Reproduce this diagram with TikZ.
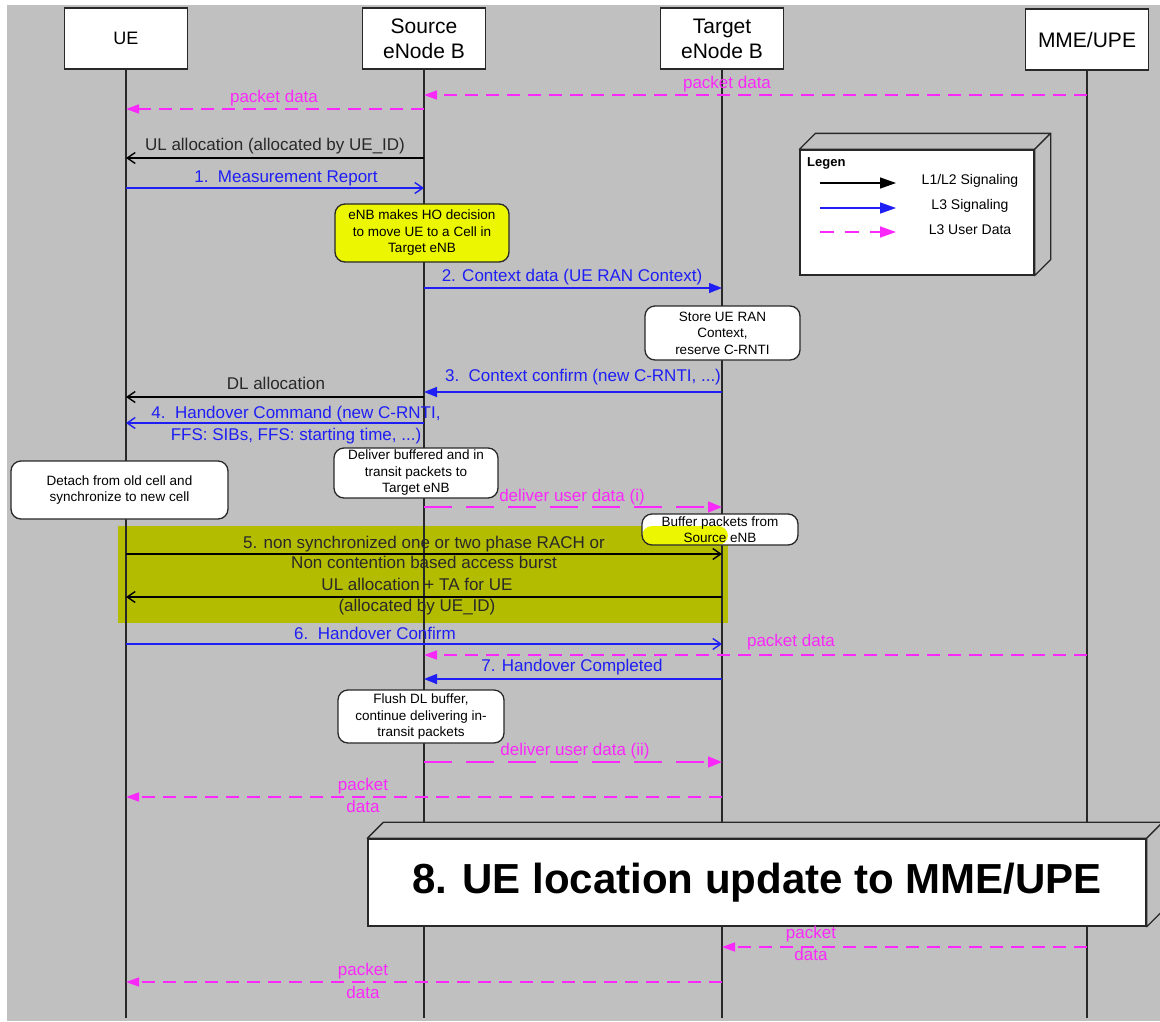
\documentclass[tikz,border=0pt]{standalone}
\usepackage{fontspec}
\setmainfont{Liberation Sans}
\usetikzlibrary{arrows.meta}
\definecolor{bg}{RGB}{192,192,192}
\definecolor{pk}{RGB}{250,40,250}
\definecolor{bl}{RGB}{30,30,245}
\definecolor{yel}{RGB}{236,246,0}
\definecolor{olv}{RGB}{180,188,0}
\definecolor{ink}{RGB}{40,40,40}
\newcommand\mmsg[5]{\coordinate (#2a) at (#3,#5); \coordinate (#2b) at (#4,#5); \draw[#1] (#2a) -- (#2b);}
\begin{document}
\begin{tikzpicture}[x=1pt,y=-1pt,
 lbl/.style={font=\fontsize{17}{20}\selectfont, inner sep=0pt, align=center},
 hdr/.style={draw=ink, line width=1.6pt, fill=white, minimum width=123pt, minimum height=61pt, font=\fontsize{21}{25}\selectfont, align=center, inner sep=0pt},
 life/.style={draw=ink, line width=1.6pt},
 note/.style={draw=ink, line width=1.3pt, fill=white, rounded corners=10pt, align=center, inner sep=0pt, font=\fontsize{13.5}{16.5}\selectfont},
 sig/.style={line width=1.4pt, -{Straight Barb[length=8pt,width=11pt,line width=1.4pt]}},
 fsig/.style={line width=1.4pt, -{Triangle[length=13pt,width=10pt]}},
 data/.style={pk, line width=1.5pt, dash pattern=on 13pt off 8pt, -{Triangle[length=13pt,width=9pt]}},
 ldata/.style={pk, line width=1.5pt, dash pattern=on 28pt off 14pt, -{Triangle[length=14pt,width=11pt]}},
 legtxt/.style={font=\fontsize{14}{16}\selectfont, inner sep=0pt},
 threed/.style={fill=bg, draw=ink, line width=1.3pt, line join=round}
]
\useasboundingbox (0,0) rectangle (1160,1021);
\fill[white] (0,0) rectangle (1160,1021);
\fill[bg] (7,5) rectangle (1160,1021);
\fill[olv] (118,526) rectangle (728,623);

% headers
\node[hdr, font=\fontsize{18}{21}\selectfont] (ue) at (126,38.5) {UE};
\node[hdr] (src) at (424,38.5) {Source\\eNode B};
\node[hdr] (tgt) at (722,38.5) {Target\\eNode B};
\node[hdr] (mme) at (1087,39.5) {MME/UPE};

% lifelines
\coordinate (ueE) at (126,1018);
\coordinate (srcE) at (424,1018);
\coordinate (tgtE) at (722,1018);
\coordinate (mmeE) at (1087,1018);
\draw[life] (ue.south) -- (ueE);
\draw[life] (src.south) -- (srcE);
\draw[life] (tgt.south) -- (tgtE);
\draw[life] (mme.south) -- (mmeE);

% legend
\node[draw=ink, line width=1.3pt, fill=white, minimum width=234pt, minimum height=125pt, inner sep=0pt] (leg) at (917,212.5) {};
\filldraw[threed] (leg.north west) -- ([shift={(16,-16)}]leg.north west) -- ([shift={(16,-16)}]leg.north east) -- (leg.north east) -- cycle;
\filldraw[threed] (leg.north east) -- ([shift={(16,-16)}]leg.north east) -- ([shift={(16,-16)}]leg.south east) -- (leg.south east) -- cycle;
\node[font=\bfseries\fontsize{13}{15}\selectfont, anchor=west, inner sep=0pt] (legt) at (807,163) {Legen};
\mmsg{black, line width=1.4pt, -{Triangle[length=16pt,width=11pt]}}{lg1}{820}{896}{183}
\mmsg{bl, line width=1.4pt, -{Triangle[length=16pt,width=11pt]}}{lg2}{820}{896}{208}
\mmsg{pk, line width=1.5pt, dash pattern=on 14pt off 11pt, -{Triangle[length=16pt,width=11pt]}}{lg3}{820}{896}{232}
\node[legtxt] (lgl1) at (970,181) {L1/L2 Signaling};
\node[legtxt] (lgl2) at (970,206) {L3 Signaling};
\node[legtxt] (lgl3) at (970,230) {L3 User Data};

% messages
\mmsg{data}{pa}{1087}{424}{95}
\node[lbl, text=pk] (pal) at (727,84) {packet data};
\mmsg{data}{pb}{424}{126}{109}
\node[lbl, text=pk] (pbl) at (274,98) {packet data};
\mmsg{sig,black}{ul}{424}{126}{158}
\node[lbl, text=ink] (ull) at (275,146) {UL allocation (allocated by UE\_ID)};
\mmsg{sig,bl}{mr}{126}{424}{188}
\node[lbl, text=bl] (mrl) at (286,178) {1.\ \ Measurement Report};
\node[note, fill=yel, minimum width=174pt, minimum height=58pt] (ho) at (422,233) {eNB makes HO decision\\to move UE to a Cell in\\Target eNB};

\mmsg{fsig,bl}{cd}{424}{722}{288}
\node[lbl, text=bl] (cdl) at (572,277) {2. Context data (UE RAN Context)};
\node[note, minimum width=155pt, minimum height=54pt] (store) at (722.5,333) {Store UE RAN\\Context,\\reserve C-RNTI};

\mmsg{fsig,bl}{cc}{722}{424}{392}
\node[lbl, text=bl] (ccl) at (583,377) {3.\ \ Context confirm (new C-RNTI, ...)};
\mmsg{sig,black}{dl}{424}{126}{397}
\node[lbl, text=ink] (dll) at (276,383) {DL allocation};
\mmsg{sig,bl}{hc}{424}{126}{423}
\node[lbl, text=bl, font=\fontsize{17}{22}\selectfont] (hcl) at (296,425) {4.\ \ Handover Command (new C-RNTI,\\FFS: SIBs, FFS: starting time, ...)};

\node[note, minimum width=217pt, minimum height=58pt] (det) at (119.5,490) {Detach from old cell and\\synchronize to new cell};
\node[note, minimum width=164pt, minimum height=50pt] (dlv) at (416,473) {Deliver buffered and in\\transit packets to\\Target eNB};

\mmsg{ldata}{dua}{424}{722}{507}
\node[lbl, text=pk] (dual) at (572,497) {deliver user data (i)};
\node[note, minimum width=156pt, minimum height=31pt, font=\fontsize{13.5}{16}\selectfont,
  path picture={\fill[yel] (path picture bounding box.south west) rectangle ([xshift=86pt,yshift=19pt]path picture bounding box.south west);}] (buf) at (720,529.5) {Buffer packets from\\Source eNB};

\mmsg{sig,black}{ra}{126}{722}{554}
\node[lbl, text=ink] (ral) at (424,552) {5. non synchronized one or two phase RACH or\\Non contention based access burst};
\mmsg{sig,black}{ua}{722}{126}{597}
\node[lbl, text=ink, font=\fontsize{17}{21}\selectfont] (ual) at (417,596.5) {UL allocation + TA for UE\\(allocated by UE\_ID)};
\mmsg{sig,bl}{hf}{126}{722}{644}
\node[lbl, text=bl] (hfl) at (375,633) {6.\ \ Handover Confirm};
\mmsg{data}{pc}{1087}{424}{655}
\node[lbl, text=pk] (pcl) at (791,642) {packet data};
\mmsg{fsig,bl}{hd}{722}{424}{679}
\node[lbl, text=bl] (hdl) at (572,667) {7. Handover Completed};
\node[note, minimum width=166pt, minimum height=53pt] (fl) at (421,716.5) {Flush DL buffer,\\continue delivering in-\\transit packets};
\mmsg{ldata}{dub}{424}{722}{762}
\node[lbl, text=pk] (dubl) at (575,751) {deliver user data (ii)};
\mmsg{data}{pd}{722}{126}{797}
\node[lbl, text=pk] (pdl1) at (363,786) {packet};
\node[lbl, text=pk] (pdl2) at (363,806) {data};

% box 8
\node[draw=ink, line width=1.4pt, fill=white, minimum width=778pt, minimum height=87pt, inner sep=0pt,
  font=\bfseries\fontsize{42}{48}\selectfont] (upd) at (757,882.5) {8. UE location update to MME/UPE};
\filldraw[threed] (upd.north west) -- ([shift={(16,-16)}]upd.north west) -- ([shift={(16,-16)}]upd.north east) -- (upd.north east) -- cycle;
\filldraw[threed] (upd.north east) -- ([shift={(16,-16)}]upd.north east) -- ([shift={(16,-16)}]upd.south east) -- (upd.south east) -- cycle;

\mmsg{data}{pe}{1087}{722}{947}
\node[lbl, text=pk] (pel1) at (811,934) {packet};
\node[lbl, text=pk] (pel2) at (811,954) {data};
\mmsg{data}{pf}{722}{126}{982}
\node[lbl, text=pk] (pfl1) at (363,971) {packet};
\node[lbl, text=pk] (pfl2) at (363,992) {data};
\end{tikzpicture}
\end{document}
